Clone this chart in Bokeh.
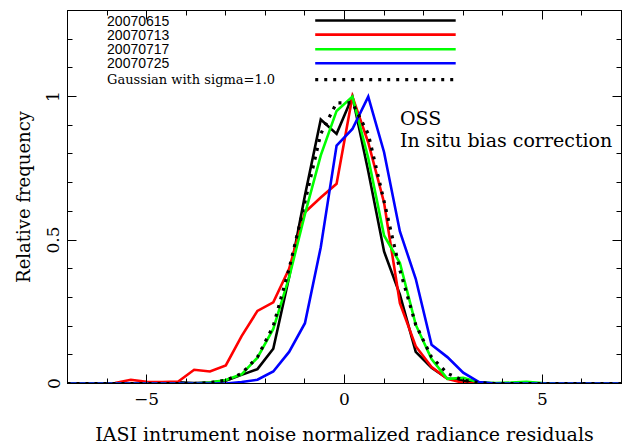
from bokeh.plotting import figure
from bokeh.models import (Range1d, LinearAxis, SingleIntervalTicker, CustomJSTickFormatter,
                          CustomLabelingPolicy)
from bokeh.core.properties import value
from bokeh.embed import file_html
from bokeh.resources import INLINE

# ---- data ----
bins = [-7.0, -6.6, -6.2, -5.8, -5.4, -5.0, -4.6, -4.2, -3.8, -3.4, -3.0, -2.6,
        -2.2, -1.8, -1.4, -1.0, -0.6, -0.2, 0.2, 0.6, 1.0, 1.4, 1.8, 2.2,
        2.6, 3.0, 3.4, 3.8, 4.2, 4.6, 5.0, 5.4, 5.8, 6.2, 6.6, 7.0]

d20070615 = [0, 0, 0, 0, 0, 0.004, 0.004, 0.004, 0.002, 0.003, 0.01, 0.03,
             0.05, 0.121, 0.37, 0.655, 0.92, 0.87, 1.0, 0.74, 0.46, 0.31, 0.11, 0.055,
             0.017, 0.01, 0.003, 0, 0, 0, 0, 0, 0, 0, 0, 0]
d20070713 = [0, 0, 0, 0.002, 0.013, 0.006, 0.005, 0.007, 0.048, 0.042, 0.063, 0.165,
             0.253, 0.283, 0.40, 0.597, 0.648, 0.696, 1.0, 0.84, 0.63, 0.28, 0.13, 0.057,
             0.016, 0.002, 0, 0, 0, 0, 0, 0, 0, 0, 0, 0]
d20070717 = [0, 0, 0, 0, 0, 0, 0, 0, 0, 0.003, 0.012, 0.032,
             0.09, 0.19, 0.37, 0.59, 0.795, 0.95, 1.0, 0.786, 0.516, 0.42, 0.205, 0.085,
             0.016, 0.02, 0.004, 0.002, 0.003, 0.006, 0.002, 0, 0, 0, 0, 0]
d20070725 = [0, 0, 0, 0, 0, 0, 0, 0, 0, 0, 0, 0.005,
             0.013, 0.042, 0.11, 0.21, 0.475, 0.829, 0.887, 1.0, 0.806, 0.53, 0.365, 0.135,
             0.092, 0.038, 0.005, 0, 0, 0, 0, 0, 0, 0, 0, 0]
gauss = [0, 0, 0, 0, 0, 0, 0, 0, 0, 0.003, 0.011, 0.035,
         0.092, 0.2, 0.40, 0.632, 0.87, 0.978, 0.978, 0.87, 0.635, 0.395, 0.205, 0.092,
         0.035, 0.011, 0.003, 0, 0, 0, 0, 0, 0, 0, 0, 0]

series_names = ["20070615", "20070713", "20070717", "20070725"]
gauss_name = "Gaussian with sigma=1.0"
annotation_lines = ["OSS", "In situ bias correction"]
x_title = "IASI intrument noise normalized radiance residuals"
y_title = "Relative frequency"

# ---- style / layout ----
colors = ["#000000", "#ff0000", "#00ff00", "#0000ff"]
LW = 2.6
SERIF = "DejaVu Serif"

p = figure(width=627, height=447, x_range=Range1d(-7, 7), y_range=Range1d(0, 1.3),
           output_backend="svg", toolbar_location=None,
           min_border_left=67, min_border_right=6, min_border_top=10, min_border_bottom=64)
p.grid.visible = False
p.outline_line_color = "black"
p.outline_line_width = 1
p.background_fill_color = "white"
p.border_fill_color = "white"

fmt_code = "const v = Math.round(tick*10)/10; return v < 0 ? '\u2212' + String(-v) : String(v);"
no_labels = CustomLabelingPolicy(code="""
for (const i of Array.from(indices.ones())) { indices.set(i, false) }
return indices
""")

def style_axis(ax, show_labels):
    ax.axis_line_color = "black"
    ax.major_tick_in = 9
    ax.major_tick_out = 0
    ax.minor_tick_in = 5
    ax.minor_tick_out = 0
    ax.major_tick_line_color = "black"
    ax.minor_tick_line_color = "black"
    if show_labels:
        ax.major_label_text_font = SERIF
        ax.major_label_text_font_size = "17px"
        ax.major_label_text_color = "black"
        ax.formatter = CustomJSTickFormatter(code=fmt_code)
    else:
        ax.major_label_text_font_size = "1px"
        ax.major_label_standoff = 0
        ax.major_label_policy = no_labels

xax = p.xaxis[0]
xax.ticker = SingleIntervalTicker(interval=5, num_minor_ticks=5)
style_axis(xax, True)
xax.major_label_standoff = 9
xax.axis_label = x_title
xax.axis_label_text_font = SERIF
xax.axis_label_text_font_style = "normal"
xax.axis_label_text_font_size = "19px"
xax.axis_label_standoff = 15
xax.axis_label_text_color = "black"

yax = p.yaxis[0]
yax.ticker = SingleIntervalTicker(interval=0.5, num_minor_ticks=5)
style_axis(yax, True)
yax.major_label_orientation = "vertical"
yax.major_label_standoff = 8
yax.axis_label = y_title
yax.axis_label_text_font = SERIF
yax.axis_label_text_font_style = "normal"
yax.axis_label_text_font_size = "18px"
yax.axis_label_standoff = 11
yax.axis_label_text_color = "black"

top = LinearAxis(ticker=SingleIntervalTicker(interval=5, num_minor_ticks=5))
style_axis(top, False)
p.add_layout(top, "above")
right = LinearAxis(ticker=SingleIntervalTicker(interval=0.5, num_minor_ticks=5))
style_axis(right, False)
p.add_layout(right, "right")

# ---- curves ----
for data, c in zip([d20070615, d20070713, d20070717, d20070725], colors):
    p.line(bins, data, line_color=c, line_width=LW, line_join="miter")
p.line(bins, gauss, line_color="black", line_width=3.2, line_dash="3 6")

# ---- legend (label left, sample line right) ----
leg_text_x = -6.0
leg_line_x0, leg_line_x1 = -0.74, 2.81
leg_y = [1.265, 1.216, 1.165, 1.116, 1.059]

p.text(x=[leg_text_x] * 4, y=leg_y[:4], text=series_names,
       text_font=value("Liberation Sans"), text_font_size=value("14px"),
       text_baseline="middle", text_align="left", text_color="black")
p.text(x=[leg_text_x], y=[leg_y[4]], text=[gauss_name],
       text_font=value(SERIF), text_font_size=value("13px"),
       text_baseline="middle", text_align="left", text_color="black")
p.segment(x0=[leg_line_x0] * 4, y0=leg_y[:4], x1=[leg_line_x1] * 4, y1=leg_y[:4],
          line_color=colors, line_width=LW)
p.segment(x0=[leg_line_x0], y0=[leg_y[4]], x1=[leg_line_x1], y1=[leg_y[4]],
          line_color="black", line_width=3.2, line_dash="3 6")

# ---- annotation ----
p.text(x=[1.4, 1.4], y=[0.927, 0.848], text=annotation_lines,
       text_font=value(SERIF), text_font_size=value("19px"),
       text_baseline="middle", text_align="left", text_color="black")

open("out.html", "w").write(file_html(p, INLINE))
